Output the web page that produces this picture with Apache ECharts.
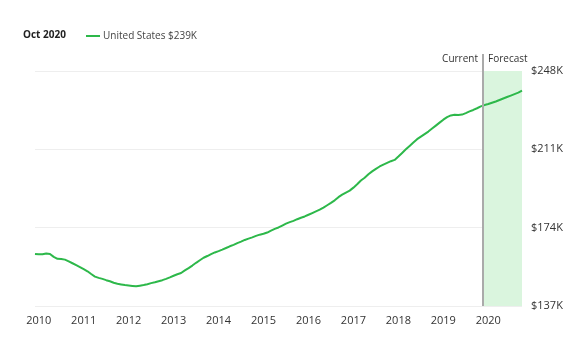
<!DOCTYPE html>
<html>
<head>
<meta charset="utf-8">
<script src="https://cdn.jsdelivr.net/npm/echarts@6/dist/echarts.min.js"></script>
<style>
html,body{margin:0;padding:0;background:#fff;}
#c{width:585px;height:354px;}
</style>
</head>
<body>
<div id="c"></div>
<script>
// Monthly series, Dec 2009 .. Oct 2020 (values in $K)
const startYear = 2009, startMonth = 12;
const seriesName = 'United States';
const values = [
  161.6,
  161.4,161.4,161.8,161.6,160.2,159.3,159.2,158.9,158.1,157.2,156.3,155.4,
  154.4,153.4,152.1,150.9,150.3,149.8,149.2,148.7,148.0,147.5,147.2,146.9,
  146.7,146.5,146.3,146.6,146.9,147.3,147.8,148.2,148.7,149.2,149.8,150.5,
  151.3,152.0,152.6,153.8,154.9,156.1,157.4,158.6,159.8,160.6,161.5,162.3,
  162.9,163.6,164.4,165.2,165.9,166.7,167.4,168.2,168.8,169.4,170.1,170.7,
  171.1,171.7,172.6,173.4,174.1,175.0,175.9,176.6,177.2,178.0,178.7,179.3,
  180.1,180.9,181.7,182.5,183.5,184.6,185.7,186.9,188.4,189.6,190.6,191.5,
  192.9,194.5,196.3,197.6,199.2,200.6,201.8,202.9,203.8,204.6,205.4,206.0,
  207.6,209.3,211.0,212.6,214.2,215.8,217.0,218.2,219.4,220.8,222.2,223.6,
  225.0,226.2,227.0,227.3,227.2,227.4,228.1,228.9,229.6,230.4,231.3,231.9,
  232.4,233.0,233.6,234.3,235.0,235.7,236.4,237.1,237.8,238.7
];
const xTickLabels = [2010,2011,2012,2013,2014,2015,2016,2017,2018,2019,2020];
const yTickValues = [137,174,211,248];
const headerDate = 'Oct 2020';
const forecastStart = 2019 + 10/12 + 14/365; // mid Nov 2019
const labelCurrent = 'Current', labelForecast = 'Forecast';

const xs = values.map((v,i) => {
  const m = startMonth - 1 + i;
  return startYear + Math.floor(m/12) + (m % 12)/12;
});
const data = xs.map((x,i) => [x, values[i]]);
const xMin = xs[0], xMax = xs[xs.length-1];
const lastVal = Math.round(values[values.length-1]);

const FONT = "'Open Sans', sans-serif";
const GREEN = '#2db84a';

const chart = echarts.init(document.getElementById('c'), null, {renderer:'canvas'});
chart.setOption({
  animation: false,
  title: {
    text: headerDate, left: 18, top: 25,
    textStyle: {fontFamily: FONT, fontSize: 10, fontWeight: 'bold', color: '#222'}
  },
  legend: {
    left: 81, top: 26,
    icon: 'rect', itemWidth: 14, itemHeight: 2, itemGap: 4,
    data: [seriesName],
    formatter: n => n + ' $' + lastVal + 'K',
    textStyle: {fontFamily: FONT, fontSize: 10, color: '#444', padding: [0,0,0,-2]}
  },
  grid: {left: 35, right: 63, top: 71, bottom: 48},
  xAxis: {
    type: 'value', min: xMin, max: xMax,
    axisLine: {show: false}, axisTick: {show: false}, splitLine: {show: false},
    axisLabel: {
      customValues: xTickLabels, margin: 9,
      formatter: v => String(Math.round(v)),
      fontFamily: FONT, fontSize: 11, color: '#333'
    }
  },
  yAxis: {
    type: 'value', position: 'right', min: yTickValues[0], max: yTickValues[yTickValues.length-1],
    axisLine: {show: false},
    axisTick: {show: false, customValues: yTickValues},
    splitLine: {show: true, lineStyle: {color: '#eeeeee', width: 1}},
    axisLabel: {
      customValues: yTickValues, margin: 9,
      formatter: v => '$' + v + 'K',
      fontFamily: FONT, fontSize: 11, color: '#333'
    }
  },
  series: [{
    name: seriesName, type: 'line', data: data,
    showSymbol: false, symbol: 'none',
    lineStyle: {color: GREEN, width: 2},
    itemStyle: {color: GREEN},
    z: 5,
    markArea: {
      silent: true,
      itemStyle: {color: '#daf5de'},
      data: [[{xAxis: forecastStart}, {xAxis: xMax}]]
    }
  }]
});

const p = chart.convertToPixel({gridIndex: 0}, [forecastStart, yTickValues[0]]);
const px = Math.round(p[0]);
chart.setOption({
  graphic: [
    {type: 'line', shape: {x1: px, y1: 54, x2: px, y2: p[1]}, style: {stroke: '#aaaaaa', lineWidth: 2}, z: 10},
    {type: 'text', x: px - 5, y: 59, style: {text: labelCurrent, align: 'right', verticalAlign: 'middle', font: "10px 'Open Sans', sans-serif", fill: '#333'}},
    {type: 'text', x: px + 5, y: 59, style: {text: labelForecast, align: 'left', verticalAlign: 'middle', font: "10px 'Open Sans', sans-serif", fill: '#333'}}
  ]
});
</script>
</body>
</html>
